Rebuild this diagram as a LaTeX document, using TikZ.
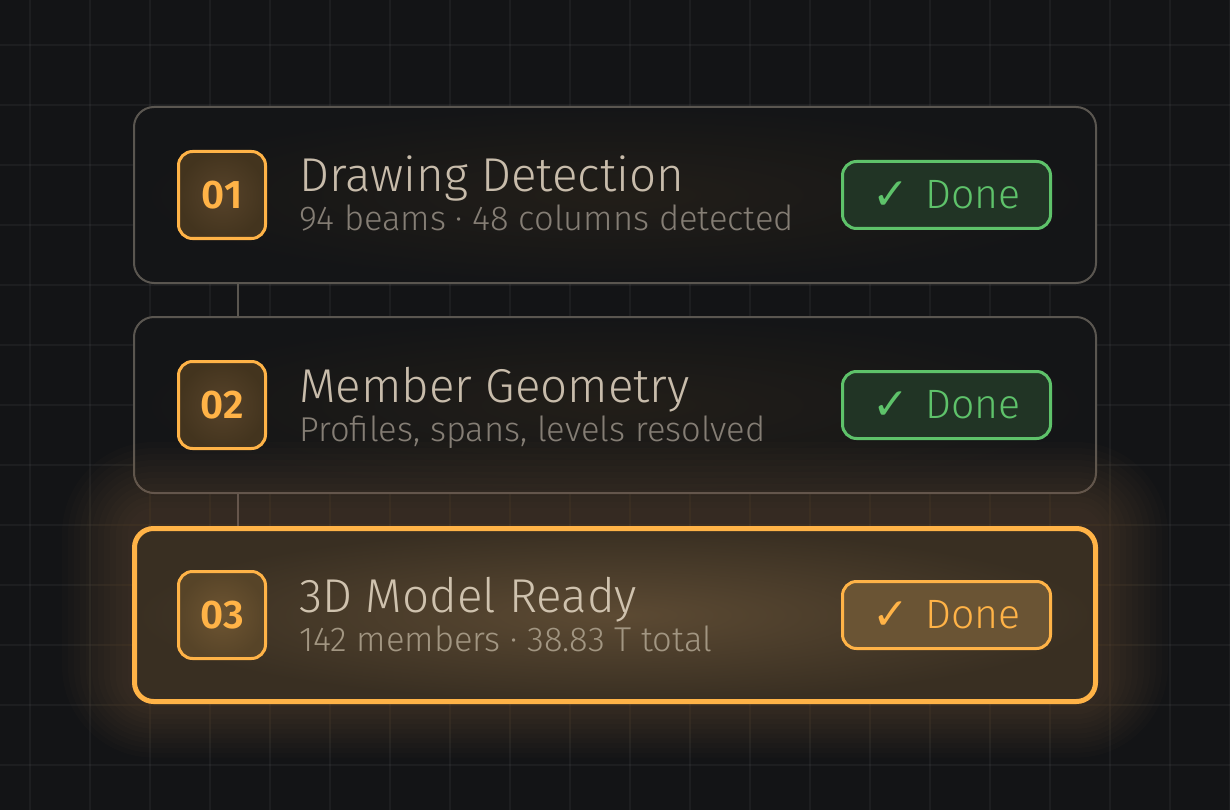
\documentclass[tikz,border=0pt]{standalone}
\usepackage{fontspec}
\setmainfont{Fira Sans}
\newfontfamily\lightfont{Fira Sans Light}
\newfontfamily\numfont{Fira Sans SemiBold}
\newfontfamily\checkfont{DejaVu Sans}
\usetikzlibrary{positioning, calc}

\definecolor{bg}{HTML}{131416}
\definecolor{cardline}{HTML}{5A5650}
\definecolor{cardfill}{HTML}{141517}
\definecolor{cardglow}{HTML}{221E18}
\definecolor{amber}{HTML}{FFB347}
\definecolor{glowc}{HTML}{B07C4C}
\definecolor{litfill}{HTML}{392F22}
\definecolor{litglow}{HTML}{5C4A33}
\definecolor{badgefill}{HTML}{43341E}
\definecolor{badgeglow}{HTML}{57432A}
\definecolor{badgelitfill}{HTML}{574428}
\definecolor{badgelitglow}{HTML}{6E5532}
\definecolor{okgreen}{HTML}{5EC26A}
\definecolor{okfill}{HTML}{213425}
\definecolor{litdone}{HTML}{6A5434}
\definecolor{titlec}{HTML}{C8BCAB}
\definecolor{titlelitc}{HTML}{CFC2AE}
\definecolor{subc}{HTML}{857E75}
\definecolor{sublitc}{HTML}{A29682}

\begin{document}
\begin{tikzpicture}
[
    x=1pt, y=-1pt, node distance=10pt,
    % Pixel grid: x to the right, y downwards
    % Cards are named card-1 ... card-3, their parts badge-i, title-i, sub-i, done-i
]

%=================================== Start ===================================
\tikzstyle{gridline} = [draw=white, draw opacity=0.045, line width=2pt]
\tikzstyle{card}     = [draw=cardline, line width=2pt, rounded corners=20pt,
                        minimum width=962pt, minimum height=176pt, inner sep=0pt,
                        shade, inner color=cardglow, outer color=cardfill]
\tikzstyle{cardlit}  = [draw=amber, line width=5pt, rounded corners=19pt,
                        minimum width=961pt, minimum height=173pt, inner sep=0pt,
                        shade, inner color=litglow, outer color=litfill]
\tikzstyle{badge}    = [draw=amber, line width=3pt, rounded corners=14pt,
                        minimum size=87pt, inner sep=0pt, text=amber,
                        font=\numfont\fontsize{40}{40}\selectfont,
                        shade, inner color=badgeglow, outer color=badgefill]
\tikzstyle{badgelit} = [badge, inner color=badgelitglow, outer color=badgelitfill]
\tikzstyle{title}    = [anchor=base west, inner sep=0pt, text=titlec,
                        font=\lightfont\fontsize{47.5}{47.5}\selectfont]
\tikzstyle{titlelit} = [title, text=titlelitc]
\tikzstyle{sub}      = [anchor=base west, inner sep=0pt, text=subc,
                        font=\lightfont\fontsize{34.5}{34.5}\selectfont]
\tikzstyle{sublit}   = [sub, text=sublitc]
\tikzstyle{done}     = [draw=okgreen, fill=okfill, text=okgreen, line width=3pt,
                        rounded corners=14pt, minimum width=208pt, minimum height=67pt,
                        inner sep=0pt, font=\lightfont\fontsize{41}{41}\selectfont]
\tikzstyle{donelit}  = [done, draw=amber, fill=litdone, text=amber]
\tikzstyle{link}     = [draw=cardline, line width=2.5pt]

{
    % Background and grid
    \fill[bg] (0,0) rectangle (1230,810);
    \useasboundingbox (0,0) rectangle (1230,810);
    \foreach \x in {30,90,...,1230}
        \draw[gridline] (\x,0) -- (\x,810);
    \foreach \y in {45,105,...,765}
        \draw[gridline] (0,\y) -- (1230,\y);

    % Finished steps
    \foreach \i / \cy in {1/195, 2/405}
        \node[card] (card-\i) at (615,\cy) {};

    % Spine between the cards
    \coordinate (spine) at (238,0);
    \path[link] (card-1.south -| spine) edge (card-2.north -| spine);
    \path[link] (card-2.south -| spine) edge (238,527);

    % Glow round the active step
    \foreach \d in {6,12,...,72}
        \fill[glowc, fill opacity=0.022, rounded corners=20+\d]
            (134-\d,514-\d) rectangle (1096+\d,700+0.8*\d);

    % Active step
    \node[cardlit] (card-3) at (615,615) {};

    % Step numbers
    \foreach \i / \cy / \s in {1/195/badge, 2/405/badge, 3/615/badgelit}
        \node[\s] (badge-\i) at (222,\cy) {0\i};

    % Titles and details
    \foreach \i / \cy / \s / \txt in {1/195/title/Drawing Detection,
                                      2/405/title/Member Geometry,
                                      3/615/titlelit/3D Model Ready}
        \node[\s] (title-\i) at (299,\cy-3) {\txt};
    \foreach \i / \cy / \s / \txt in {1/195/sub/94 beams · 48 columns detected,
                                      2/405/sub/{Profiles, spans, levels resolved},
                                      3/615/sublit/142 members · 38.83 T total}
        \node[\s] (sub-\i) at (299,\cy+36) {\txt};

    % Status
    \foreach \i / \cy / \s in {1/195/done, 2/405/done, 3/615/donelit}
        \node[\s] (done-\i) at (946.5,\cy)
            {\raisebox{-1pt}{\checkfont\fontsize{44}{44}\selectfont ✓}\hspace{16pt}Done};
}
%==================================== END ====================================

\end{tikzpicture}
\end{document}
